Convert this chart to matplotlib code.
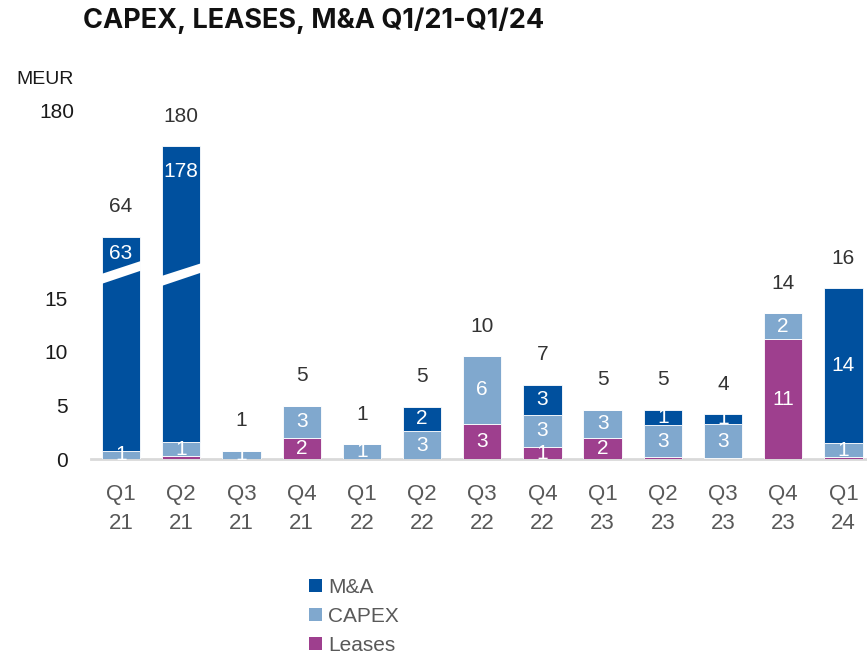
import numpy as np
import matplotlib
matplotlib.use("Agg")
import matplotlib.pyplot as plt
from matplotlib.patches import Polygon, Patch
import matplotlib.transforms as mtransforms

# ---------------- data ----------------
quarters = ["Q1\n21", "Q2\n21", "Q3\n21", "Q4\n21", "Q1\n22", "Q2\n22", "Q3\n22",
            "Q4\n22", "Q1\n23", "Q2\n23", "Q3\n23", "Q4\n23", "Q1\n24"]
leases = [0.0, 0.3, 0.0, 2.0, 0.0, 0.0, 3.3, 1.15, 2.0, 0.2, 0.1, 11.2, 0.2]
capex = [0.8, 1.3, 0.8, 3.0, 1.4, 2.6, 6.3, 3.0, 2.6, 3.0, 3.2, 2.4, 1.3]
mna = [63.0, 178.0, 0.0, 0.0, 0.0, 2.3, 0.0, 2.8, 0.0, 1.4, 0.9, 0.0, 14.4]
totals = [64, 180, 1, 5, 1, 5, 10, 7, 5, 5, 4, 14, 16]
ytick_vals = [0, 5, 10, 15]
top_tick_label = "180"
series_names = ["M&A", "CAPEX", "Leases"]

# ---------------- style ----------------
C_MNA = "#00509E"
C_CAPEX = "#80A8CE"
C_LEASE = "#9E3F8E"
TXT = "#333333"
GREY = "#595959"
FONT = "Liberation Sans"

W, H = 867, 655
fig = plt.figure(figsize=(W / 100, H / 100), dpi=100)

ax_left_px, ax_right_px = 91, 867
ax_bottom_px, ax_top_px = 459.3, 100  # from top of figure
ax = fig.add_axes([ax_left_px / W, (H - ax_bottom_px) / H,
                   (ax_right_px - ax_left_px) / W, (ax_bottom_px - ax_top_px) / H])

# broken (piecewise linear) y scale
VB = np.array([-100, 0, 16.5, 63.8, 179.6, 400])
slope_hi = (29.14 - 20.71) / (179.6 - 63.8)
UB = np.array([-100, 0, 16.5, 20.71, 29.14, 29.14 + (400 - 179.6) * slope_hi])
fwd = lambda v: np.interp(v, VB, UB)
inv = lambda u: np.interp(u, UB, VB)
ax.set_yscale("function", functions=(fwd, inv))

px_per_unit = 10.75
u_top = (ax_bottom_px - ax_top_px) / px_per_unit
x = np.arange(len(quarters))
ax.set_xlim(-0.5, (ax_right_px - 121) / 60.2)
ax.set_ylim(0, float(inv(u_top)))

bw = 0.636
leases_a = np.array(leases)
capex_a = np.array(capex)
mna_a = np.array(mna)
ax.bar(x, leases_a, bw, color=C_LEASE, edgecolor="white", linewidth=0.6, zorder=2)
ax.bar(x, capex_a, bw, bottom=leases_a, color=C_CAPEX, edgecolor="white", linewidth=0.6, zorder=2)
ax.bar(x, mna_a, bw, bottom=leases_a + capex_a, color=C_MNA, edgecolor="white", linewidth=0.6, zorder=2)

FS = 15
# inner labels
for i in range(len(x)):
    base = 0.0
    for vals in (leases_a, capex_a, mna_a):
        v = vals[i]
        if round(v) >= 1:
            top = base + v
            if top > 30:
                off = -17 if i == 0 else -25
                ax.annotate(f"{round(v):.0f}", (x[i], top), xytext=(0, off * 0.72),
                            textcoords="offset points", ha="center", va="center",
                            color="white", fontsize=FS, family=FONT, zorder=4)
            else:
                ax.text(x[i], base + v / 2, f"{round(v):.0f}", ha="center", va="center",
                        color="white", fontsize=FS, family=FONT, zorder=4)
        base += v
    ax.annotate(f"{totals[i]}", (x[i], base), xytext=(0, 30 * 0.72), textcoords="offset points",
                ha="center", va="center", color=TXT, fontsize=FS, family=FONT, zorder=4)

# break stripes on the tall bars (pixel geometry from top of figure)
stripes = {0: (284, 270.7, 261, 274), 1: (286, 272.7, 263.3, 276)}
trans = mtransforms.blended_transform_factory(ax.transData, ax.transAxes)
hpx = ax_bottom_px - ax_top_px
for i, (ll, lr, ur, ul) in stripes.items():
    xl, xr = x[i] - bw / 2 - 0.01, x[i] + bw / 2 + 0.01
    pts = [(xl, (ax_bottom_px - ll) / hpx), (xr, (ax_bottom_px - lr) / hpx),
           (xr, (ax_bottom_px - ur) / hpx), (xl, (ax_bottom_px - ul) / hpx)]
    ax.add_patch(Polygon(pts, closed=True, facecolor="white", edgecolor="none",
                         transform=trans, zorder=3))

# axes styling
for s in ("top", "right", "left"):
    ax.spines[s].set_visible(False)
ax.spines["bottom"].set_color("#D9D9D9")
ax.spines["bottom"].set_linewidth(2)
ax.spines["bottom"].set_zorder(1)
ax.set_yticks(ytick_vals)
ax.set_yticklabels([str(v) for v in ytick_vals])
ax.tick_params(axis="y", length=0, pad=17, labelsize=FS, labelcolor="#1A1A1A")
ax.set_xticks(x)
ax.set_xticklabels(quarters, linespacing=1.5)
ax.tick_params(axis="x", length=0, pad=18, labelsize=16, labelcolor=GREY)
for lab in ax.get_xticklabels() + ax.get_yticklabels():
    lab.set_family(FONT)

# top "180" label and unit
fig.text(74 / W, 1 - 112 / H, top_tick_label, ha="right", va="center",
         fontsize=FS, family=FONT, color="#1A1A1A")
fig.text(74 / W, 1 - 79 / H, "MEUR", ha="right", va="center",
         fontsize=14, family=FONT, color="#1A1A1A")

# title
fig.text(83 / W, 1 - 28.5 / H, "CAPEX, LEASES, M&A Q1/21-Q1/24", ha="left", va="baseline",
         fontsize=19.5, family="Inter", weight="bold", color="#111111")

# legend
handles = [Patch(facecolor=C_MNA), Patch(facecolor=C_CAPEX), Patch(facecolor=C_LEASE)]
leg = fig.legend(handles, series_names, loc="upper left",
                 bbox_to_anchor=(309 / W, 1 - 578 / H), frameon=False,
                 prop={"family": FONT, "size": FS}, handlelength=0.6, handleheight=0.6,
                 handletextpad=0.3, labelspacing=0.47, borderpad=0, borderaxespad=0)
for t in leg.get_texts():
    t.set_color(GREY)

fig.savefig("out.png", dpi=100)
